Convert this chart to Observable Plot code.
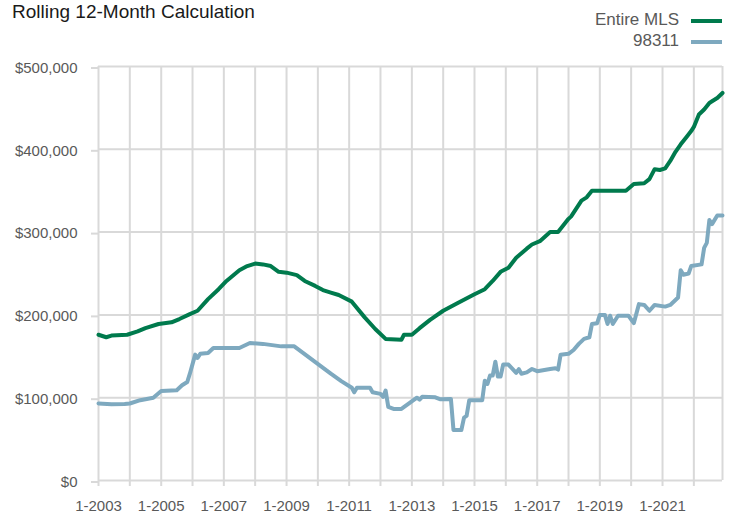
<!DOCTYPE html>
<html>
<head>
<meta charset="utf-8">
<script src="https://cdn.jsdelivr.net/npm/d3@7"></script>
<script src="https://cdn.jsdelivr.net/npm/@observablehq/plot@0.6"></script>
<style>
  body { margin: 0; background: #fff; }
  #wrap { position: relative; width: 732px; height: 515px; font-family: "Liberation Sans", Arial, sans-serif; }
  #title { position: absolute; left: 12px; top: 2px; font-size: 19px; line-height: 19px; color: #1a1a1a; white-space: nowrap; }
  .leg { position: absolute; right: 10px; height: 20px; display: flex; align-items: center; font-size: 17px; line-height: 20px; color: #595959; white-space: nowrap; }
  .leg span.sw { display: inline-block; width: 31px; height: 4px; margin-left: 12px; }
</style>
</head>
<body>
<div id="wrap">
  <div id="chart"></div>
  <div id="title">Rolling 12-Month Calculation</div>
  <div class="leg" style="top:10px"><span>Entire MLS</span><span class="sw" style="background:#007A4D;position:relative;top:1px"></span></div>
  <div class="leg" style="top:31px"><span>98311</span><span class="sw" style="background:#7EA9BF;position:relative;top:1px"></span></div>
</div>
<script>
// ---- Data (values in US dollars) ----
const mlsDates = ["2003-01","2003-04","2003-06","2003-12","2004-04","2004-07","2004-12","2005-05","2005-08","2005-12",
  "2006-03","2006-07","2006-11","2007-02","2007-07","2007-10","2008-01","2008-04","2008-07","2008-10",
  "2009-01","2009-05","2009-08","2009-12","2010-03","2010-06","2010-09","2011-02","2011-07","2011-11",
  "2012-03","2012-09","2012-10","2013-01","2013-04","2013-08","2014-01","2014-07","2015-01","2015-05",
  "2015-08","2015-11","2016-02","2016-05","2016-09","2016-11","2017-02","2017-06","2017-09","2018-01",
  "2018-02","2018-06","2018-08","2018-10","2019-11","2020-02","2020-06","2020-08","2020-10","2020-12",
  "2021-02","2021-04","2021-06","2021-08","2021-10","2021-12","2022-01","2022-03","2022-05","2022-07",
  "2022-08","2022-10","2022-12"];
const mlsValues = [176000,173000,175000,176000,180000,184000,189000,191000,195000,201000,
  205000,219000,231000,241000,254000,259000,262000,261000,259000,252000,
  251000,248000,241000,235000,230000,227000,224000,216000,197000,183000,
  171000,170000,176000,176000,184000,194000,205000,215000,225000,231000,
  241000,252000,257000,269000,280000,285000,289000,300000,300000,316000,
  319000,338000,342000,350000,350000,358000,359000,364000,376000,375000,
  377000,386000,397000,406000,414000,422000,427000,442000,448000,456000,
  458000,462000,468000];

const zipDates = ["2003-01","2003-06","2003-11","2004-01","2004-05","2004-10","2005-01","2005-07","2005-09","2005-11",
  "2005-12","2006-02","2006-03","2006-04","2006-07","2006-09","2007-07","2007-11","2008-04","2008-11",
  "2009-04","2010-06","2010-10","2011-02","2011-03","2011-04","2011-09","2011-10","2012-01","2012-02",
  "2012-03","2012-04","2012-06","2012-09","2013-03","2013-04","2013-05","2013-10","2013-12","2014-04",
  "2014-05","2014-08","2014-09","2014-10","2014-11","2015-04","2015-05","2015-06","2015-07","2015-08",
  "2015-09","2015-10","2015-11","2015-12","2016-02","2016-05","2016-06","2016-07","2016-09","2016-11",
  "2017-01","2017-06","2017-08","2017-09","2017-10","2018-01","2018-03","2018-05","2018-07","2018-09",
  "2018-10","2018-12","2019-01","2019-03","2019-04","2019-05","2019-06","2019-08","2019-12","2020-02",
  "2020-04","2020-06","2020-08","2020-10","2021-02","2021-04","2021-06","2021-07","2021-08","2021-09",
  "2021-11","2021-12","2022-04","2022-05","2022-06","2022-07","2022-08","2022-10","2022-12"];
const zipValues = [93000,92000,92500,93000,97000,100000,108000,109000,115000,119000,
  129000,152000,148000,153000,154000,160000,160000,166000,165000,162000,
  162000,129000,120000,112000,106500,112000,112000,106500,104600,101000,
  108600,89000,86500,86500,100000,97700,101000,100500,98000,98500,
  61000,61000,76000,78000,97000,97000,120600,116600,126700,126700,
  143500,125500,125500,140000,140000,130000,134500,129000,130600,134700,
  132000,134700,135500,134000,152000,153000,157600,165000,171000,173000,
  189000,190000,200000,200000,189000,199000,189000,199000,199000,190000,
  213000,212000,205000,212000,210000,212000,218000,221000,254000,248500,
  250000,259000,261000,281000,287000,314500,309600,320000,320000];

const yTicks = [0, 100000, 200000, 300000, 400000, 500000];
const xStart = "2003-01", xEnd = "2022-12";

// ---- Build ----
const parse = d3.utcParse("%Y-%m");
const mls = mlsDates.map((d, i) => ({date: parse(d), value: mlsValues[i]}));
const zip = zipDates.map((d, i) => ({date: parse(d), value: zipValues[i]}));
const x0 = parse(xStart), x1 = parse(xEnd);
const years = d3.utcYear.range(x0, x1);
const grid = "#d9d9d9";

const chart = Plot.plot({
  width: 732,
  height: 515,
  marginTop: 66,
  marginBottom: 35,
  marginLeft: 98,
  marginRight: 10,
  style: {fontFamily: "'Liberation Sans', Arial, sans-serif", fontSize: "15px", color: "#595959", background: "#fff"},
  x: {type: "utc", domain: [x0, x1], label: null},
  y: {domain: [0, 500000], label: null},
  marks: [
    Plot.gridX(years, {stroke: grid, strokeOpacity: 1, strokeWidth: 2}),
    Plot.ruleX([x1], {stroke: grid, strokeWidth: 2}),
    Plot.gridY(yTicks, {stroke: grid, strokeOpacity: 1, strokeWidth: 2}),
    Plot.axisX(years, {
      tickSize: 6, tickPadding: 14, stroke: grid, strokeWidth: 2, label: null,
      tickFormat: d => d.getUTCFullYear() % 2 === 1 ? `1-${d.getUTCFullYear()}` : ""
    }),
    Plot.axisY(yTicks, {
      tickSize: 7, tickPadding: 14, stroke: grid, strokeWidth: 2, label: null, dy: 1.5,
      tickFormat: d3.format("$,")
    }),
    Plot.line(zip, {x: "date", y: "value", stroke: "#7EA9BF", strokeWidth: 4, strokeLinejoin: "round"}),
    Plot.line(mls, {x: "date", y: "value", stroke: "#007A4D", strokeWidth: 4, strokeLinejoin: "round"})
  ]
});
document.getElementById("chart").appendChild(chart);
</script>
</body>
</html>
